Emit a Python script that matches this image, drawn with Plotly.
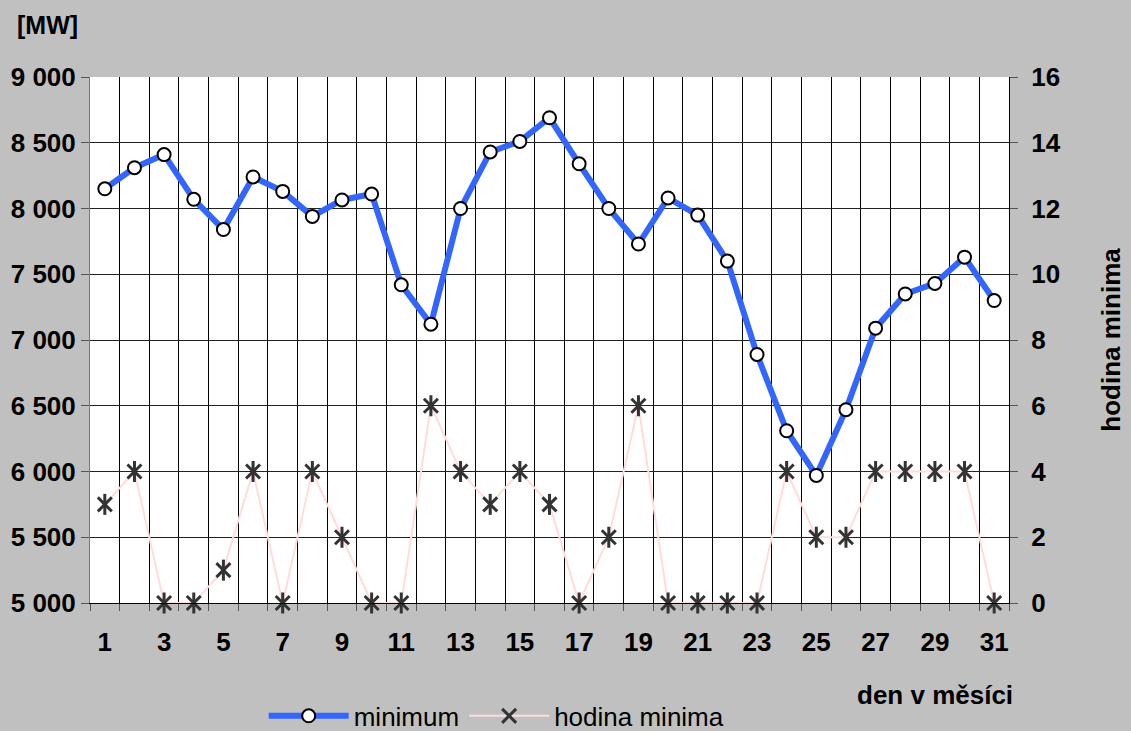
import plotly.graph_objects as go

# den v měsíci
dny = list(range(1, 32))

# minimum zatížení [MW]
minimum = [8150, 8310, 8410, 8070, 7840, 8240, 8130, 7940, 8065, 8110,
           7420, 7120, 8000, 8430, 8510, 8690, 8340, 8000, 7730, 8080,
           7950, 7600, 6890, 6310, 5970, 6470, 7090, 7350, 7430, 7630, 7300]

# hodina, ve které minimum nastalo
hodina_minima = [3, 4, 0, 0, 1, 4, 0, 4, 2, 0,
                 0, 6, 4, 3, 4, 3, 0, 2, 6, 0,
                 0, 0, 0, 4, 2, 2, 4, 4, 4, 4, 0]

tick_dny = list(range(1, 32, 2))
tick_mw = list(range(5000, 9001, 500))
tick_hod = list(range(0, 17, 2))

font_b = dict(family="Liberation Sans", size=26, color="black", weight="bold")

fig = go.Figure()

fig.add_trace(go.Scatter(
    x=dny, y=minimum, name="minimum", mode="lines+markers",
    line=dict(color="#3366FF", width=6),
    marker=dict(symbol="circle", size=13, color="white",
                line=dict(color="black", width=2)),
    yaxis="y", cliponaxis=False,
))

# hodina minima - křížek s kolmou čárou (dvě vrstvy značek)
fig.add_trace(go.Scatter(
    x=dny, y=hodina_minima, name="hodina minima", mode="lines+markers",
    line=dict(color="#FFDCDC", width=2),
    marker=dict(symbol="x-thin-open", size=14, color="#333333",
                line=dict(width=3)),
    yaxis="y2", legendgroup="hod", cliponaxis=False,
))
fig.add_trace(go.Scatter(
    x=dny, y=hodina_minima, name="hodina minima", mode="markers",
    marker=dict(symbol="line-ns-open", size=15, color="#333333",
                line=dict(width=3)),
    yaxis="y2", legendgroup="hod", showlegend=False, cliponaxis=False,
))

fig.update_layout(
    width=1131, height=731,
    paper_bgcolor="#C0C0C0",
    plot_bgcolor="white",
    separators=". ",
    margin=dict(l=90, r=122, t=77, b=128, autoexpand=False),
    xaxis=dict(
        range=[0.5, 31.5],
        tickvals=tick_dny,
        ticks="",
        showgrid=False,
        zeroline=False,
        tickfont=font_b,
        ticklabelstandoff=16,
        showline=True, linecolor="black", linewidth=1,
        minor=dict(tick0=0.5, dtick=1, showgrid=True, gridcolor="black",
                   gridwidth=1, ticks="outside", ticklen=7,
                   tickcolor="#555555", tickwidth=1),
    ),
    yaxis=dict(
        range=[5000, 9000],
        tickvals=tick_mw,
        tickformat=",d",
        showgrid=True, gridcolor="#222222", gridwidth=1,
        zeroline=False,
        ticks="outside", ticklen=8, tickcolor="#555555",
        tickfont=font_b,
        showline=True, linecolor="#777777", linewidth=1,
    ),
    yaxis2=dict(
        range=[0, 16],
        tickvals=tick_hod,
        overlaying="y", side="right",
        showgrid=False, zeroline=False,
        ticks="outside", ticklen=8, tickcolor="#555555",
        ticklabelstandoff=8,
        tickfont=font_b,
        showline=True, linecolor="black", linewidth=1,
        title=dict(text="hodina minima", standoff=42,
                   font=dict(family="Liberation Sans", size=26,
                             color="black", weight="bold")),
    ),
    legend=dict(
        orientation="h", x=0.189, y=-0.17, xanchor="left", yanchor="top",
        bgcolor="rgba(0,0,0,0)",
        font=dict(family="Liberation Sans", size=26, color="black"),
        itemwidth=80, tracegroupgap=0,
    ),
    annotations=[
        dict(text="<b>[MW]</b>", xref="paper", yref="paper",
             x=-0.082, y=1.099, xanchor="left", yanchor="middle",
             showarrow=False,
             font=dict(family="Liberation Sans", size=25, color="black")),
        dict(text="<b>den v měsíci</b>", xref="paper", yref="paper",
             x=1.0065, y=-0.175, xanchor="right", yanchor="middle",
             showarrow=False,
             font=dict(family="Liberation Sans", size=26, color="black")),
    ],
)

fig.write_html("out.html", config={"displayModeBar": False},
               post_script="document.body.style.margin='0';")
